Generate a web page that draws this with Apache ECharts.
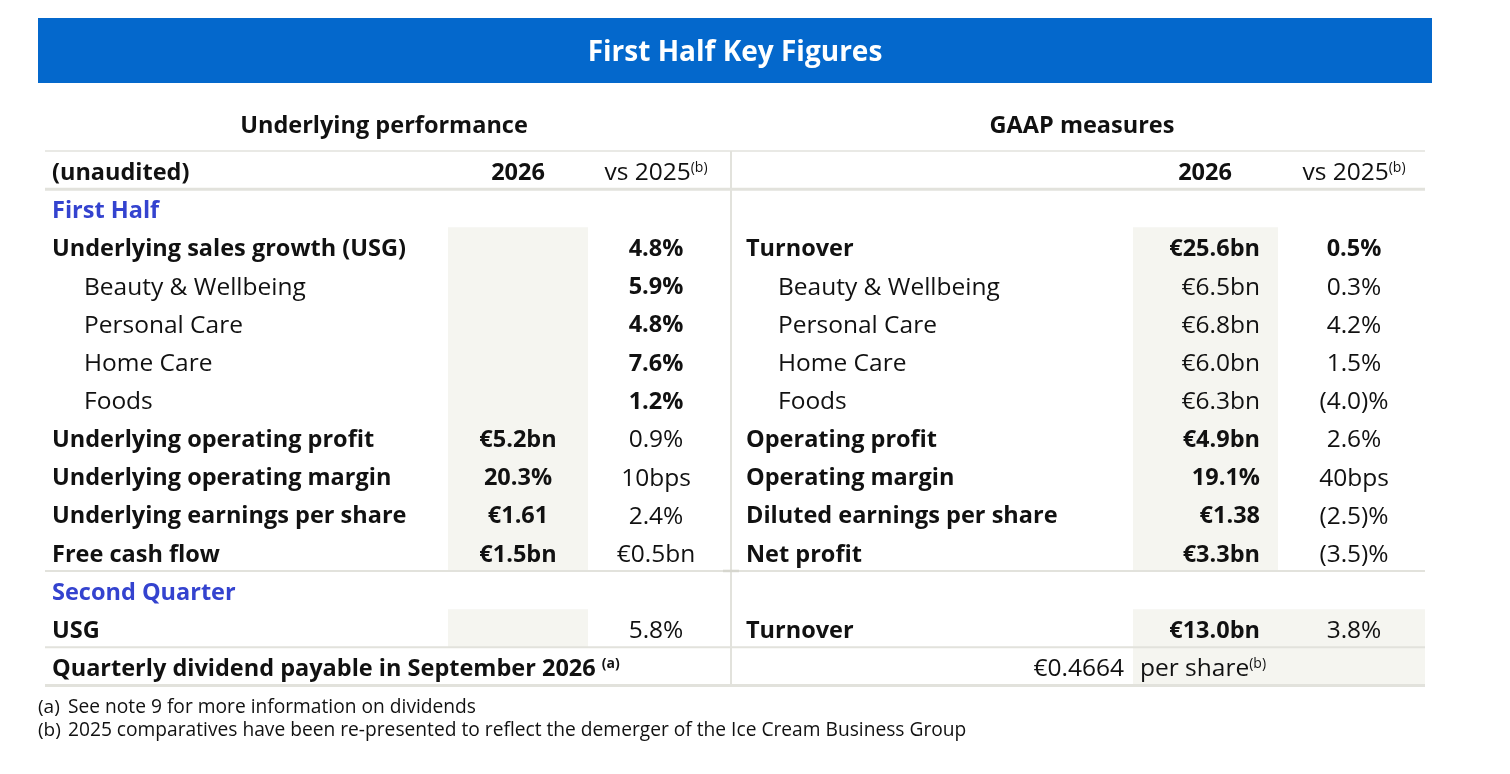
<!DOCTYPE html>
<html>
<head>
<meta charset="utf-8">
<script src="https://cdn.jsdelivr.net/npm/echarts@6/dist/echarts.min.js"></script>
<style>
  html, body { margin: 0; padding: 0; background: #fff; }
  #chart { width: 1510px; height: 774px; }
</style>
</head>
<body>
<div id="chart"></div>
<script>
// ---- table content ----
const pageTitle = 'First Half Key Figures';
const sectionTitles = ['Underlying performance', 'GAAP measures'];

const rowKeys = ['head', 'firstHalf', 'usg', 'beauty', 'personal', 'home', 'foods',
  'uop', 'uom', 'ueps', 'fcf', 'secondQuarter', 'usgQ2', 'dividend'];

const leftLabels = ['(unaudited)', 'First Half', 'Underlying sales growth (USG)', 'Beauty & Wellbeing',
  'Personal Care', 'Home Care', 'Foods', 'Underlying operating profit', 'Underlying operating margin',
  'Underlying earnings per share', 'Free cash flow', 'Second Quarter', 'USG',
  'Quarterly dividend payable in September 2026'];
const left2026 = ['2026', '', '', '', '', '', '', '€5.2bn', '20.3%', '€1.61', '€1.5bn', '', '', ''];
const leftVs2025 = ['vs 2025', '', '4.8%', '5.9%', '4.8%', '7.6%', '1.2%', '0.9%', '10bps', '2.4%',
  '€0.5bn', '', '5.8%', ''];

const rightLabels = ['', '', 'Turnover', 'Beauty & Wellbeing', 'Personal Care', 'Home Care', 'Foods',
  'Operating profit', 'Operating margin', 'Diluted earnings per share', 'Net profit', '', 'Turnover', ''];
const right2026 = ['2026', '', '€25.6bn', '€6.5bn', '€6.8bn', '€6.0bn', '€6.3bn', '€4.9bn', '19.1%',
  '€1.38', '€3.3bn', '', '€13.0bn', '€0.4664'];
const rightVs2025 = ['vs 2025', '', '0.5%', '0.3%', '4.2%', '1.5%', '(4.0)%', '2.6%', '40bps', '(2.5)%',
  '(3.5)%', '', '3.8%', 'per share'];

const footMarks = ['(a)', '(b)'];
const footTexts = ['See note 9 for more information on dividends',
  '2025 comparatives have been re-presented to reflect the demerger of the Ice Cream Business Group'];

// ---- styling ----
const FONT = '"Open Sans", sans-serif';
const INK = '#111111';
const BLUE = '#3443cf';
const BAR = '#0468cc';
const SHADE = '#f5f5f0';
const RULE = '#e2e2dc';
const BODY_B = 23.5;   // bold text
const BODY_R = 24.5;   // regular text (reference face runs wide)
const SUP = 14;
const DY = 3;          // baseline nudge

const X = {
  lLabel: 52, lIndent: 84, l2026: 518, lVs: 656,
  rLabel: 746, rIndent: 778, r2026Head: 1205, r2026: 1260, rVs: 1354,
  divValue: 1124, divUnit: 1140,
  tableL: 45, tableR: 1425, split: 731
};

const indentRows = [3, 4, 5, 6];
const sectionRows = [1, 11];
const plainLeftVs = [7, 8, 9, 10, 12];
const boldRight2026 = [0, 2, 7, 8, 9, 10, 12];
const boldRightVs = [2];
const supMarks = { head: '(b)', dividendLabel: '(a)', dividendUnit: '(b)' };

const shadeSpans = [
  { x0: 448, x1: 588, r0: 2, r1: 10 },
  { x0: 448, x1: 588, r0: 12, r1: 12 },
  { x0: 1133, x1: 1278, r0: 2, r1: 10 },
  { x0: 1133, x1: 1425, r0: 12, r1: 13 }
];
const hRules = [
  { row: 0, edge: -1, w: 1.5 },
  { row: 0, edge: 1, w: 3 },
  { row: 10, edge: 1, w: 2 },
  { row: 12, edge: 1, w: 2 },
  { row: 13, edge: 1, w: 3 }
];

// ---- build cells ----
const cells = [];
rowKeys.forEach((key, i) => {
  const last = i === rowKeys.length - 1;
  const indent = indentRows.includes(i);
  const section = sectionRows.includes(i);
  if (leftLabels[i]) cells.push({
    x: indent ? X.lIndent : X.lLabel, row: i, text: leftLabels[i], align: 'left',
    bold: !indent, color: section ? BLUE : INK, sup: last ? supMarks.dividendLabel : null, supGap: last
  });
  if (left2026[i]) cells.push({ x: X.l2026, row: i, text: left2026[i], align: 'center', bold: true });
  if (leftVs2025[i]) cells.push({
    x: X.lVs, row: i, text: leftVs2025[i], align: 'center',
    bold: i !== 0 && !plainLeftVs.includes(i), sup: i === 0 ? supMarks.head : null
  });
  if (rightLabels[i]) cells.push({
    x: indent ? X.rIndent : X.rLabel, row: i, text: rightLabels[i], align: 'left', bold: !indent
  });
  if (right2026[i]) cells.push({
    x: i === 0 ? X.r2026Head : (last ? X.divValue : X.r2026), row: i, text: right2026[i],
    align: i === 0 ? 'center' : 'right', bold: boldRight2026.includes(i)
  });
  if (rightVs2025[i]) cells.push({
    x: last ? X.divUnit : X.rVs, row: i, text: rightVs2025[i], align: last ? 'left' : 'center',
    bold: boldRightVs.includes(i), sup: i === 0 ? supMarks.head : (last ? supMarks.dividendUnit : null)
  });
});

// ---- chart ----
const chart = echarts.init(document.getElementById('chart'), null, { renderer: 'canvas' });

function bandEdges(api, row) {
  const c = api.coord([0, row])[1];
  const h = api.size([0, 1])[1];
  return [c - h / 2, c + h / 2];
}

function renderShade(params, api) {
  const s = shadeSpans[params.dataIndex];
  const top = bandEdges(api, s.r0)[0];
  const bottom = bandEdges(api, s.r1)[1];
  const x0 = api.coord([s.x0, s.r0])[0];
  const x1 = api.coord([s.x1, s.r0])[0];
  return { type: 'rect', shape: { x: x0, y: top, width: x1 - x0, height: bottom - top },
    style: { fill: SHADE } };
}

function renderRules(params, api) {
  const children = [];
  const xl = api.coord([X.tableL, 0])[0];
  const xr = api.coord([X.tableR, 0])[0];
  hRules.forEach(r => {
    const e = bandEdges(api, r.row);
    const y = r.edge < 0 ? e[0] : e[1];
    children.push({ type: 'line', shape: { x1: xl, y1: y, x2: xr, y2: y },
      style: { stroke: RULE, lineWidth: r.w } });
  });
  const xs = api.coord([X.split, 0])[0];
  const yTop = bandEdges(api, 0)[0];
  const yBot = bandEdges(api, rowKeys.length - 1)[1];
  children.push({ type: 'line', shape: { x1: xs, y1: yTop, x2: xs, y2: yBot },
    style: { stroke: RULE, lineWidth: 2 } });
  const yStub = bandEdges(api, 10)[1];
  children.push({ type: 'line', shape: { x1: xs - 8, y1: yStub, x2: xs + 8, y2: yStub },
    style: { stroke: '#d6d6ce', lineWidth: 2.5 } });
  return { type: 'group', children };
}

function renderText(params, api) {
  const c = cells[params.dataIndex];
  const p = api.coord([api.value(0), api.value(1)]);
  const weight = c.bold ? 'bold' : 'normal';
  const size = c.bold ? BODY_B : BODY_R;
  const fill = c.color || INK;
  const style = {
    x: 0, y: 0, align: c.align, verticalAlign: 'middle',
    fill, fontFamily: FONT, fontSize: size, fontWeight: weight
  };
  if (c.sup) {
    style.text = '{m|' + c.text + (c.supGap ? ' ' : '') + '}{s|' + c.sup + '}';
    style.rich = {
      m: { fontFamily: FONT, fontSize: size, fontWeight: weight, fill },
      s: { fontFamily: FONT, fontSize: SUP, fontWeight: weight, fill, verticalAlign: 'top' }
    };
  } else {
    style.text = c.text;
  }
  return { type: 'text', x: p[0], y: p[1] + DY, style };
}

const graphics = [
  { type: 'rect', shape: { x: 38, y: 18, width: 1394, height: 65 }, style: { fill: BAR }, silent: true },
  { type: 'text', x: 735, y: 53, silent: true,
    style: { text: pageTitle, fill: '#fff', fontFamily: FONT, fontSize: 28, fontWeight: 'bold',
      align: 'center', verticalAlign: 'middle' } }
];
sectionTitles.forEach((t, i) => graphics.push({
  type: 'text', x: i === 0 ? 384 : 1082, y: 126, silent: true,
  style: { text: t, fill: INK, fontFamily: FONT, fontSize: 23.5, fontWeight: 'bold',
    align: 'center', verticalAlign: 'middle' }
}));
footTexts.forEach((t, i) => {
  graphics.push({ type: 'text', x: 38, y: 708 + i * 23, silent: true,
    style: { text: footMarks[i], fill: INK, fontFamily: FONT, fontSize: 19, verticalAlign: 'middle' } });
  graphics.push({ type: 'text', x: 68, y: 708 + i * 23, silent: true,
    style: { text: t, fill: INK, fontFamily: FONT, fontSize: 19.2, verticalAlign: 'middle' } });
});

chart.setOption({
  animation: false,
  grid: { left: 0, top: 151, width: 1510, height: 534.5 },
  xAxis: { type: 'value', min: 0, max: 1510, show: false },
  yAxis: { type: 'category', data: rowKeys, inverse: true, show: false },
  graphic: graphics,
  series: [
    { type: 'custom', name: 'shade', silent: true, renderItem: renderShade,
      data: shadeSpans.map(s => [s.x0, s.r0]), encode: { x: 0, y: 1 } },
    { type: 'custom', name: 'rules', silent: true, renderItem: renderRules,
      data: [[0, 0]], encode: { x: 0, y: 1 } },
    { type: 'custom', name: 'cells', silent: true, renderItem: renderText,
      data: cells.map(c => [c.x, c.row]), encode: { x: 0, y: 1 } }
  ]
});
</script>
</body>
</html>
